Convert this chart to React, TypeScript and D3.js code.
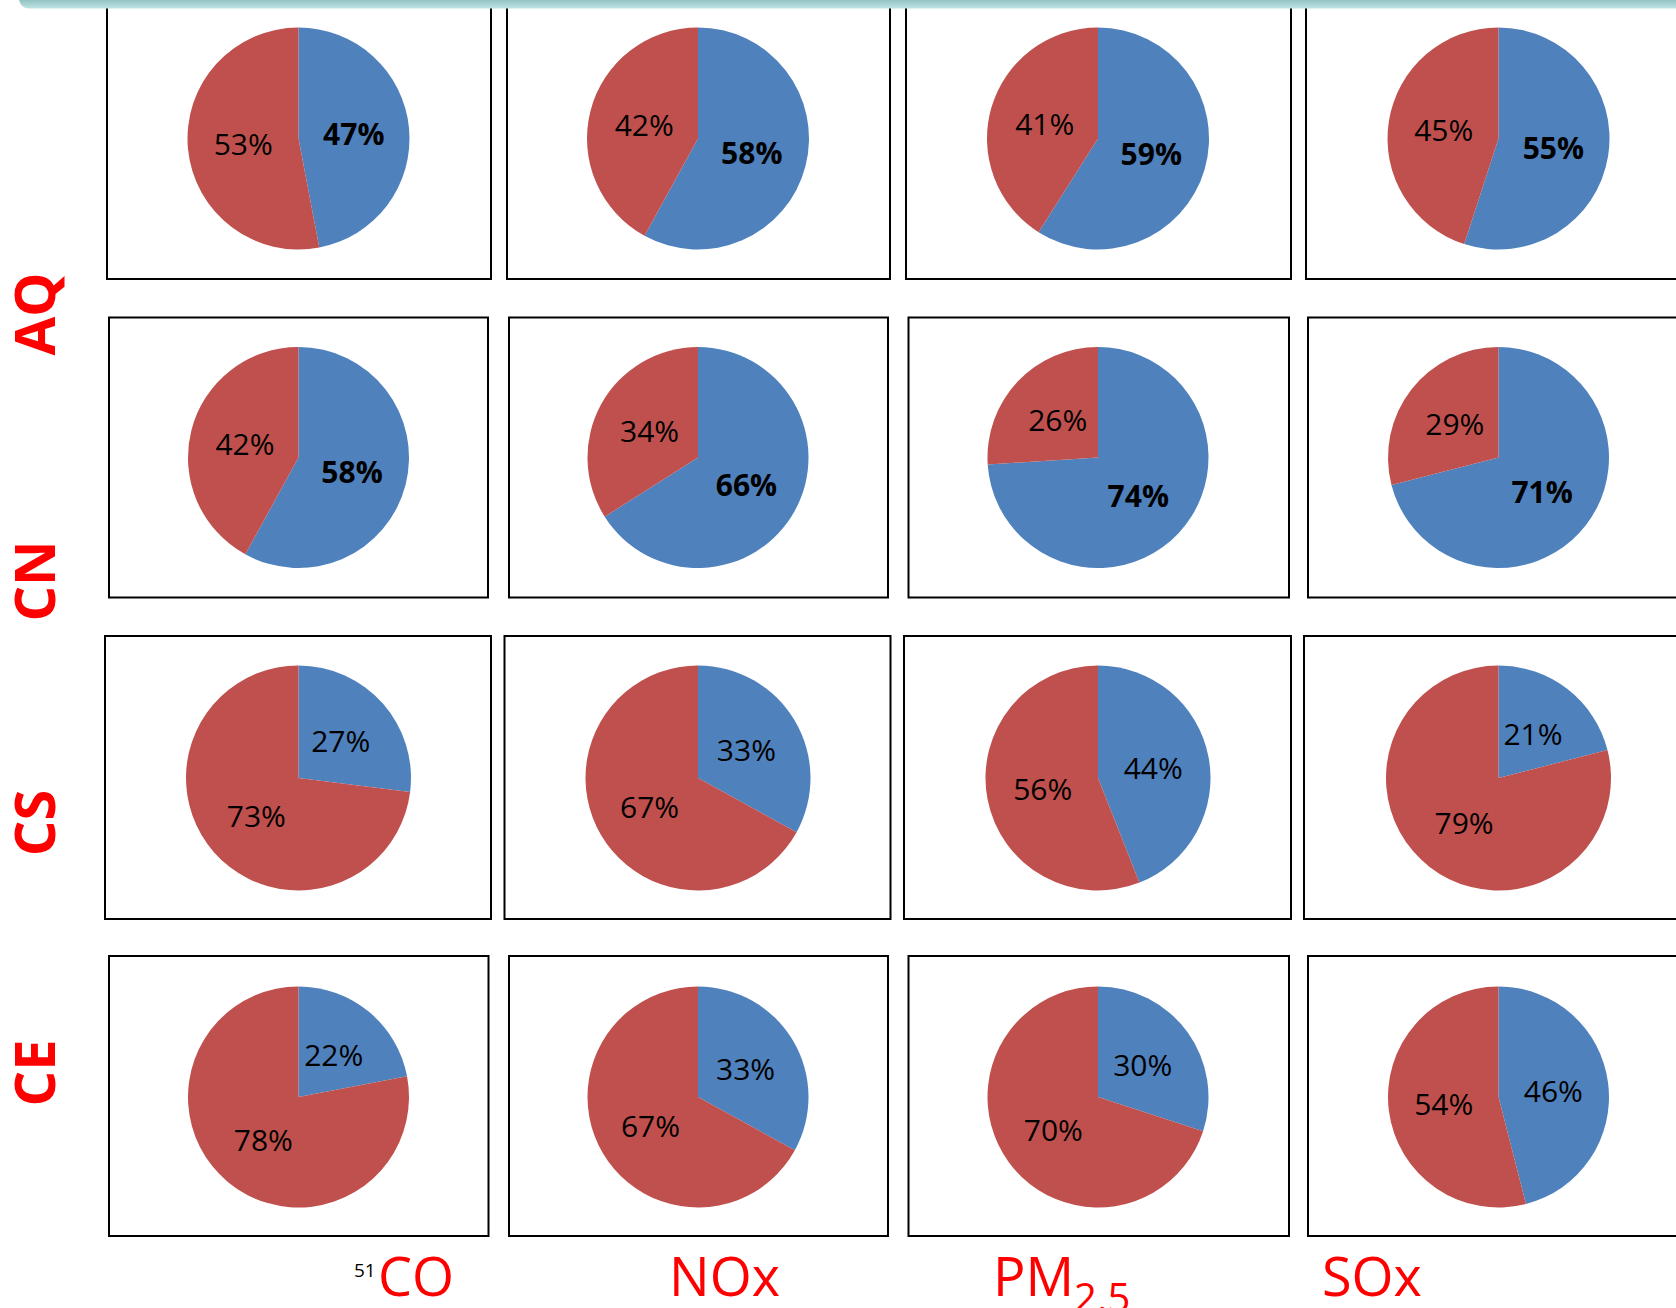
import React from "react";
import * as d3 from "d3";

// Pollutant columns and region rows
const pollutants = ["CO", "NOx", "PM", "SOx"];
const regions = ["AQ", "CN", "CS", "CE"];

// Share of each pollutant (percent), blue slice first, red slice second
const blueShare: number[][] = [
  [47, 58, 59, 55],
  [58, 66, 74, 71],
  [27, 33, 44, 21],
  [22, 33, 30, 46],
];
const redShare: number[][] = [
  [53, 42, 41, 45],
  [42, 34, 26, 29],
  [73, 67, 56, 79],
  [78, 67, 70, 54],
];
// Rows whose blue label is set in bold
const boldBlueRows = [true, true, false, false];

const W = 1676;
const H = 1308;
const BLUE = "#4f81bd";
const RED = "#c0504d";
const FONT = "'Open Sans', 'Liberation Sans', sans-serif";

// Frame geometry per row: [top, bottom], and per row the column [left, right]
const rowFrames = [
  { y0: -4, y1: 279, xs: [[107, 491], [507, 890], [906, 1291], [1306, 1692]] },
  { y0: 317.5, y1: 597.5, xs: [[109, 488], [509, 888], [908.5, 1289], [1308, 1692]] },
  { y0: 636, y1: 919, xs: [[105, 491], [504.5, 890.5], [904, 1291], [1304, 1692]] },
  { y0: 956, y1: 1236, xs: [[109, 488.5], [509, 888], [908.5, 1289], [1308, 1692]] },
];
const colCenters = [298.5, 698, 1098, 1498.5];
const rowCenters = [138.5, 457.5, 778, 1097];
const rowRadii = [111, 110.5, 112.5, 110.5];
const labelCenters = [314, 581, 823, 1073];

const pieGen = d3.pie<number>().sort(null).value((d) => d);

export default function App() {
  return (
    <svg
      width={W}
      height={H}
      viewBox={`0 0 ${W} ${H}`}
      style={{ position: "absolute", left: 0, top: 0, background: "#fff" }}
    >
      <defs>
        <linearGradient id="topBand" x1="0" y1="0" x2="0" y2="1">
          <stop offset="0" stopColor="#93c2c2" />
          <stop offset="1" stopColor="#bfe5e5" />
        </linearGradient>
      </defs>
      <rect x={0} y={0} width={W} height={H} fill="#fff" />

      {rowFrames.map((rf, ri) => {
        const arcGen = d3
          .arc<d3.PieArcDatum<number>>()
          .innerRadius(0)
          .outerRadius(rowRadii[ri]);
        return rf.xs.map(([x0, x1], ci) => {
          const cx = colCenters[ci];
          const cy = rowCenters[ri];
          const arcs = pieGen([blueShare[ri][ci], redShare[ri][ci]]);
          return (
            <g key={`${ri}-${ci}`}>
              <rect
                x={x0}
                y={rf.y0}
                width={x1 - x0}
                height={rf.y1 - rf.y0}
                fill="#fff"
                stroke="#000"
                strokeWidth={2}
              />
              <g transform={`translate(${cx},${cy})`}>
                {arcs.map((a, k) => (
                  <path key={k} d={arcGen(a) || ""} fill={k === 0 ? BLUE : RED} />
                ))}
                {arcs.map((a, k) => {
                  const [lx, ly] = arcGen.centroid(a);
                  const bold = k === 0 && boldBlueRows[ri];
                  return (
                    <text
                      key={`t${k}`}
                      x={lx}
                      y={ly}
                      textAnchor="middle"
                      dominantBaseline="central"
                      fontFamily={FONT}
                      fontSize={30}
                      fontWeight={bold ? 700 : 400}
                      fill="#000"
                    >
                      {`${a.data}%`}
                    </text>
                  );
                })}
              </g>
            </g>
          );
        });
      })}

      {/* top band */}
      <path
        d={`M19,0 H${W} V8.5 H29 Q21,8.5 19,0 Z`}
        fill="url(#topBand)"
      />

      {/* row labels */}
      {regions.map((r, i) => (
        <text
          key={r}
          transform={`translate(55,${labelCenters[i]}) rotate(-90)`}
          textAnchor="middle"
          fontFamily={FONT}
          fontWeight={700}
          fontSize={56}
          fill="#ff0000"
        >
          {r}
        </text>
      ))}

      {/* column labels */}
      <text x={354} y={1277} fontFamily={FONT} fontSize={19} fill="#000">
        51
      </text>
      <text x={378} y={1296} fontFamily={FONT} fontSize={54} fill="#ff0000">
        {pollutants[0]}
      </text>
      <text x={669} y={1296} fontFamily={FONT} fontSize={54} fill="#ff0000">
        {pollutants[1]}
      </text>
      <text x={993} y={1296} fontFamily={FONT} fontSize={54} fill="#ff0000">
        {pollutants[2]}
        <tspan fontSize={40} dy={16}>
          2.5
        </tspan>
      </text>
      <text x={1322} y={1296} fontFamily={FONT} fontSize={54} fill="#ff0000">
        {pollutants[3]}
      </text>
    </svg>
  );
}
